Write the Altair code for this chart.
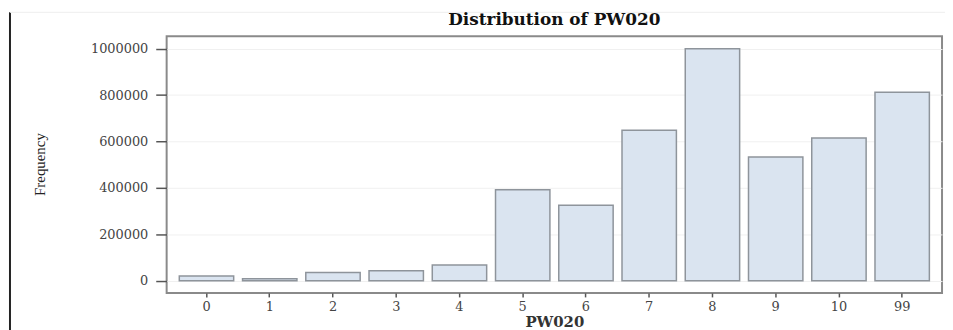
import altair as alt
import pandas as pd

categories = ["0", "1", "2", "3", "4", "5", "6", "7", "8", "9", "10", "99"]
frequency = [21000, 8500, 36000, 43000, 68000, 392000, 325000, 648000, 1000000, 533000, 615000, 812000]
y_ticks = [0, 200000, 400000, 600000, 800000, 1000000]

df = pd.DataFrame({"PW020": categories, "Frequency": frequency})

bars = alt.Chart(df).mark_bar(
    fill="#dae4f0", stroke="#8e949b", strokeWidth=1.5
).encode(
    x=alt.X("PW020:N", sort=categories,
            scale=alt.Scale(paddingInner=0.14, paddingOuter=0.2),
            axis=alt.Axis(title="PW020", labelAngle=0, domain=False,
                          tickSize=4, tickColor="#555", tickWidth=1.5,
                          labelPadding=4, labelFont="DejaVu Serif", labelFontSize=13,
                          labelColor="#444", titleFont="DejaVu Serif", titleFontSize=15,
                          titleFontWeight="bold", titleColor="#333", titlePadding=1)),
    y=alt.Y("Frequency:Q",
            scale=alt.Scale(domain=[-52500, 1054000], nice=False, zero=False),
            axis=alt.Axis(title="Frequency", values=y_ticks, format="d", domain=False,
                          tickSize=11, tickColor="#555", tickWidth=1.5,
                          labelPadding=8, labelFont="DejaVu Serif", labelFontSize=13,
                          labelColor="#444", grid=True, gridColor="#f0f0f0",
                          titleFont="Liberation Serif", titleFontSize=15,
                          titleFontWeight="normal", titleColor="#222",
                          titleX=-128, titleY=129, titleAngle=270,
                          titleBaseline="middle", titleAlign="center")),
)

edge = alt.Chart(alt.Data(values=[{"a": 1}])).mark_rule(
    color="#222", strokeWidth=2
).encode(x=alt.value(-158), y=alt.value(-24), y2=alt.value(300))

topline = alt.Chart(alt.Data(values=[{"a": 1}])).mark_rule(
    color="#eeeeee", strokeWidth=1
).encode(x=alt.value(-158), x2=alt.value(790), y=alt.value(-24))

chart = alt.layer(bars, edge, topline).properties(
    width=782,
    height=259,
    title=alt.TitleParams("Distribution of PW020", font="DejaVu Serif",
                          fontSize=17, fontWeight="bold", color="#111",
                          anchor="middle", frame="group", offset=-18),
    autosize=alt.AutoSizeParams(type="none"),
    padding={"left": 160, "top": 27, "right": 3, "bottom": 36},
).configure_view(
    stroke="#8a8a8a", strokeWidth=2
)

chart.save("out.html", embed_options={"renderer": "svg", "actions": False})
